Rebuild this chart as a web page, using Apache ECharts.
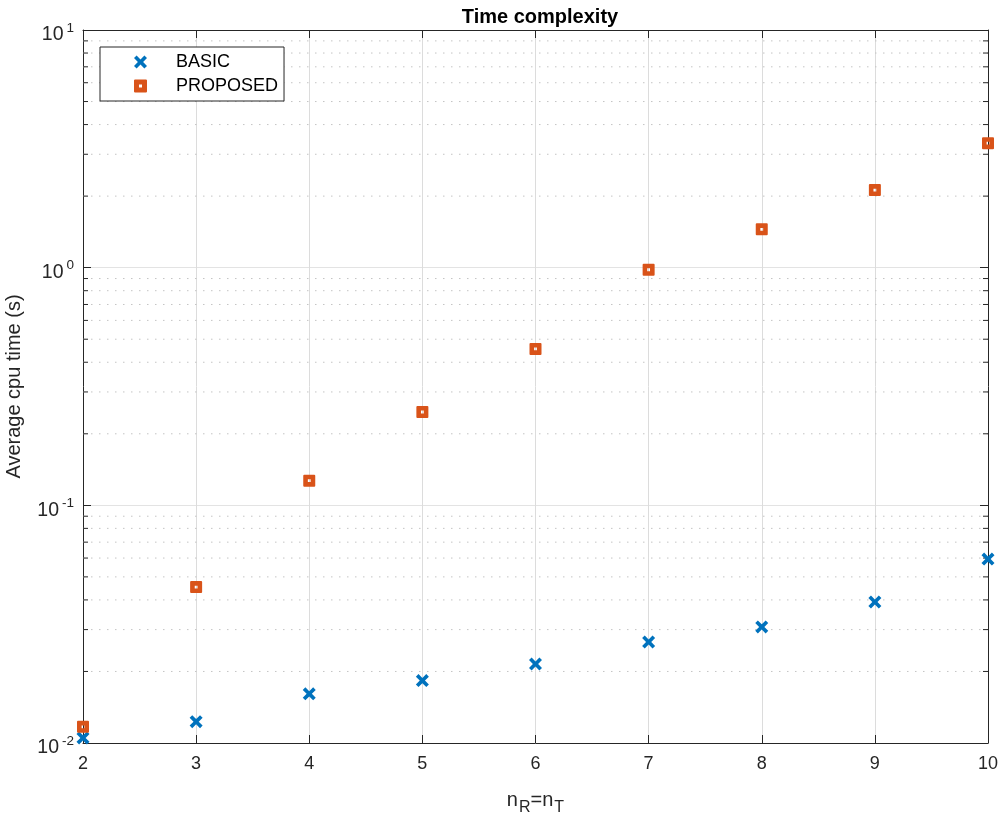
<!DOCTYPE html>
<html>
<head>
<meta charset="utf-8">
<script src="https://cdn.jsdelivr.net/npm/echarts@6/dist/echarts.min.js"></script>
<style>
  html, body { margin: 0; padding: 0; background: #fff; }
  #chart { width: 1007px; height: 821px; }
</style>
</head>
<body>
<div id="chart"></div>
<script>
// antenna count n_R = n_T
const nVals = [2, 3, 4, 5, 6, 7, 8, 9, 10];
// average cpu time (s)
const basicTime = [0.0105, 0.0123, 0.0161, 0.0183, 0.0215, 0.0266, 0.0308, 0.0392, 0.0594];
const proposedTime = [0.0117, 0.0453, 0.127, 0.247, 0.455, 0.98, 1.45, 2.12, 3.34];
const yMin = 0.01, yMax = 10;

// minor log ticks 2..9 in each decade
const minorVals = [];
for (let d = -2; d < 1; d++) {
    for (let k = 2; k <= 9; k++) minorVals.push(k * Math.pow(10, d));
}

const axisColor = "#262626";
const font = "Liberation Sans, Arial, Helvetica, sans-serif";
const xMark = "path://M0,2 L2,0 L5,3 L8,0 L10,2 L7,5 L10,8 L8,10 L5,7 L2,10 L0,8 L3,5 Z";
// filled square with a small hole in the middle
const sqMark = "path://M1,0 L11,0 Q12,0 12,1 L12,11 Q12,12 11,12 L1,12 Q0,12 0,11 L0,1 Q0,0 1,0 Z M4.6,4.6 L4.6,7.4 L7.4,7.4 L7.4,4.6 Z";

const chart = echarts.init(document.getElementById("chart"));

const yLabel = v => {
    const e = Math.round(Math.log10(v));
    return "{b|10}{s|" + e + "}";
};

chart.setOption({
    animation: false,
    textStyle: { fontFamily: font },
    title: {
        text: "Time complexity",
        left: 535,
        textAlign: "center",
        top: 2,
        textStyle: { fontSize: 20, fontWeight: "bold", color: "#000", fontFamily: font }
    },
    grid: { left: 83, right: 19, top: 30, bottom: 78, outerBoundsMode: "none", containLabel: false },
    legend: {
        data: [
            { name: "BASIC", icon: xMark },
            { name: "PROPOSED", icon: sqMark }
        ],
        orient: "vertical",
        left: 100,
        top: 47,
        padding: [6, 6, 6, 34],
        itemGap: 6,
        itemWidth: 13,
        itemHeight: 13,
        borderColor: axisColor,
        borderWidth: 1,
        backgroundColor: "#fff",
        textStyle: { fontSize: 18, color: "#000", padding: [0, 0, 0, 24], fontFamily: font }
    },
    xAxis: [{
        type: "value",
        min: nVals[0],
        max: nVals[nVals.length - 1],
        interval: 1,
        name: "{n|n}{sub|R}{n|=n}{sub|T}",
        nameLocation: "middle",
        nameGap: 42,
        nameTextStyle: {
            rich: {
                n: { fontSize: 20, color: axisColor, fontFamily: font },
                sub: { fontSize: 16, color: axisColor, padding: [15, 0, 0, 1], fontFamily: font }
            }
        },
        axisLine: { lineStyle: { color: axisColor } },
        axisTick: { inside: true, length: 8, lineStyle: { color: axisColor } },
        axisLabel: { fontSize: 18, color: axisColor, margin: 12 },
        splitLine: { show: true, lineStyle: { color: "#dcdcdc" } }
    }, {
        type: "value",
        position: "top",
        min: nVals[0],
        max: nVals[nVals.length - 1],
        interval: 1,
        axisLine: { show: true, lineStyle: { color: axisColor } },
        axisTick: { inside: true, length: 8, lineStyle: { color: axisColor } },
        axisLabel: { show: false },
        splitLine: { show: false }
    }],
    yAxis: [{
        type: "log",
        logBase: 10,
        min: yMin,
        max: yMax,
        name: "Average cpu time (s)",
        nameLocation: "middle",
        nameGap: 59,
        nameTextStyle: { fontSize: 20, color: axisColor },
        axisLine: { show: true, lineStyle: { color: axisColor } },
        axisTick: { inside: true, length: 8, lineStyle: { color: axisColor } },
        axisLabel: {
            formatter: yLabel,
            margin: 9,
            rich: {
                b: { fontSize: 19.5, color: axisColor, fontFamily: font, padding: [10, 0, 0, 0] },
                s: { fontSize: 13.5, color: axisColor, padding: [0, 0, 4, 3], fontFamily: font }
            }
        },
        splitLine: { show: true, lineStyle: { color: "#e3e3e3" } }
    }, {
        type: "log",
        logBase: 10,
        position: "right",
        min: yMin,
        max: yMax,
        axisLine: { show: true, lineStyle: { color: axisColor } },
        axisTick: { inside: true, length: 8, lineStyle: { color: axisColor } },
        axisLabel: { show: false },
        splitLine: { show: false }
    }],
    series: [{
        // minor grid + minor ticks
        type: "custom",
        name: "minor",
        silent: true,
        z: 1,
        data: minorVals.map(v => [nVals[0], v]),
        renderItem: (params, api) => {
            const v = api.value(1);
            const pl = api.coord([nVals[0], v]);
            const pr = api.coord([nVals[nVals.length - 1], v]);
            return {
                type: "group",
                children: [{
                    type: "line",
                    shape: { x1: pl[0], y1: pl[1], x2: pr[0], y2: pr[1] },
                    style: { stroke: "#c4c4c4", lineWidth: 1, lineDash: [1.5, 6.5] }
                }, {
                    type: "line",
                    shape: { x1: pl[0], y1: pl[1], x2: pl[0] + 5, y2: pl[1] },
                    style: { stroke: axisColor, lineWidth: 1 }
                }, {
                    type: "line",
                    shape: { x1: pr[0] - 5, y1: pr[1], x2: pr[0], y2: pr[1] },
                    style: { stroke: axisColor, lineWidth: 1 }
                }]
            };
        }
    }, {
        name: "BASIC",
        type: "scatter",
        z: 5,
        symbol: xMark,
        symbolSize: 13,
        itemStyle: { color: "#0072BD", opacity: 1 },
        data: nVals.map((n, i) => [n, basicTime[i]])
    }, {
        name: "PROPOSED",
        type: "scatter",
        z: 5,
        symbol: sqMark,
        symbolSize: 12,
        itemStyle: { color: "#D95319", opacity: 1 },
        data: nVals.map((n, i) => [n, proposedTime[i]])
    }]
});
</script>
</body>
</html>
